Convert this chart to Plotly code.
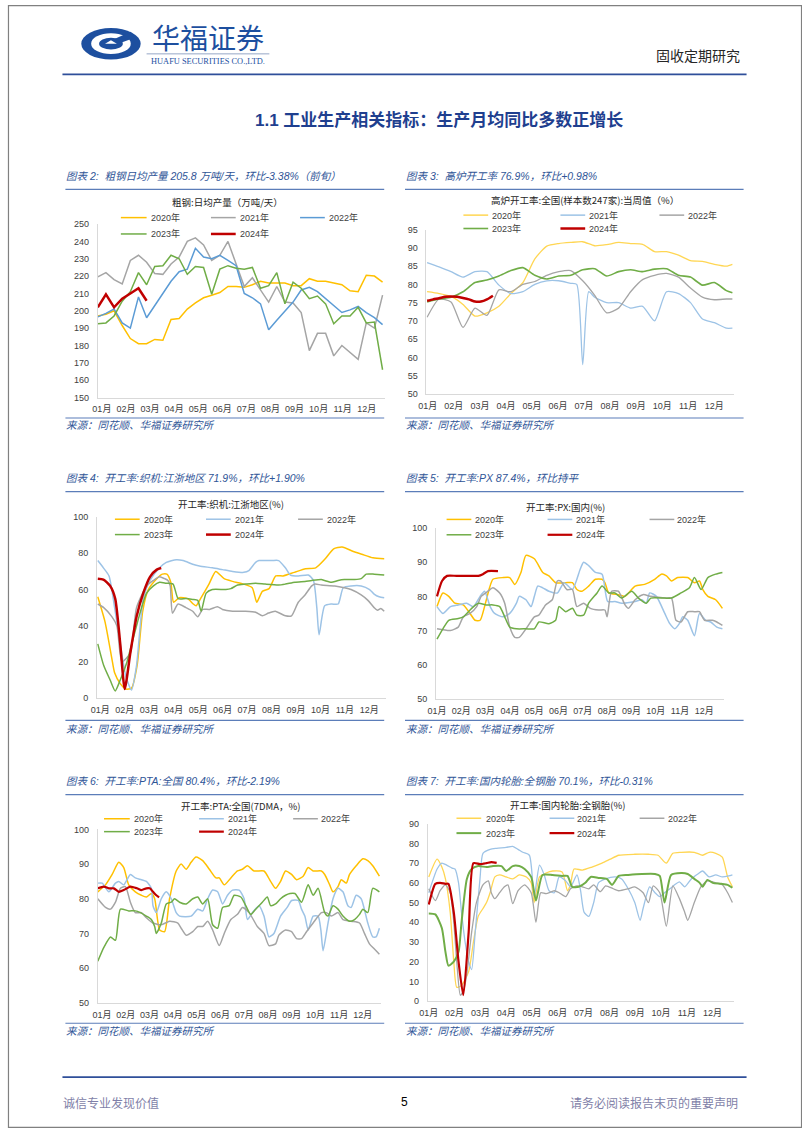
import plotly.graph_objects as go

# ======================= DATA =======================
MONTHS = ["01月", "02月", "03月", "04月", "05月", "06月", "07月", "08月", "09月", "10月", "11月", "12月"]
YEARS = ["2020年", "2021年", "2022年", "2023年", "2024年"]

# --- Chart 2: crude steel daily output (per 10-day period, index 0..35)
steel_2020 = [197, 198, 200, 191.5, 184, 181, 181, 183.5, 183, 195, 195.5, 201, 204.5, 207.5, 209, 210.5, 214, 214,
              213.5, 215, 217, 216, 216, 216, 214.5, 214.5, 218.5, 217, 217, 216, 215, 211.5, 211, 220.5, 220, 216.5]
steel_2021 = [219.5, 222, 218, 215.5, 229, 232, 228, 221.5, 221, 227, 231, 240, 242, 238, 229, 232, 240, 227,
              214, 219, 212, 205, 214, 205, 204.5, 199, 177, 187, 187, 174, 180, 176, 172, 193, 190, 209]
steel_2022 = [196.5, 198.5, 201, 193, 190, 208, 196, 203, 210, 217, 222.5, 224, 236, 231, 230, 232, 229, 226,
              210, 207.5, 204, 189, 194.5, 199.5, 205, 212, 213.5, 211, 207, 203, 199, 200.5, 202.5, 199, 196, 192]
steel_2023 = [192.5, 193, 197, 205.5, 211, 222, 215, 225.5, 226, 232, 230, 221, 225.5, 225, 209.5, 224, 226, 224.5,
              224, 225, 213, 214.5, 222, 204, 216.5, 213, 207, 208.5, 204, 192.5, 197, 197, 202, 193, 193.5, 166]
steel_2024 = [202, 209.5, 202, 207, 210, 213, 205.8]

# --- Chart 3: blast furnace utilisation (week number, value)
bf_2020_w = [0, 2, 4, 6, 8, 10, 12, 14, 16, 18, 20, 22, 24, 26, 28, 30, 32, 34, 36, 38, 40, 42, 44, 46, 48, 50, 51]
bf_2020_v = [78, 77.5, 76.7, 74.5, 71.3, 72.2, 74, 77.5, 80.5, 87, 90.5, 91.2, 91.5, 91.7, 90.6, 90.9, 91.5, 91.2,
             91, 89, 89, 88, 86.5, 86.3, 85.5, 85, 85.5]
bf_2021_w = [0, 2, 4, 6, 8, 10, 12, 14, 16, 18, 20, 22, 24, 25, 26, 27, 28, 30, 32, 34, 36, 38, 40, 42, 44, 46, 48, 50, 51]
bf_2021_v = [86, 84.8, 83.5, 82, 83.5, 83.5, 79.8, 77.5, 78, 80, 81, 81, 80.3, 80, 58, 78, 76.5, 75, 75, 73.5, 74,
             70, 78, 77.5, 75, 70.5, 69.5, 68, 68]
bf_2022_w = [0, 2, 4, 6, 8, 10, 12, 14, 16, 18, 20, 22, 24, 26, 28, 30, 32, 34, 36, 38, 40, 42, 44, 46, 48, 50, 51]
bf_2022_v = [71, 76, 75.2, 68.2, 73.5, 71.5, 78.5, 78, 80, 80.8, 82.5, 83.5, 83.8, 81, 77, 72.2, 73.5, 78, 81.3,
             82.5, 83, 82, 79, 76.5, 75.8, 76, 76]
bf_2023_w = [0, 2, 4, 6, 8, 10, 12, 14, 16, 18, 20, 22, 24, 26, 28, 30, 32, 34, 36, 38, 40, 42, 44, 46, 48, 50, 51]
bf_2023_v = [75.2, 76, 76.5, 78, 80.5, 81.2, 82.3, 83.8, 84.6, 82.5, 81.5, 82.3, 82.5, 84, 84.3, 82.3, 83.5, 84,
             83.5, 84.2, 84.3, 82.5, 82, 79.8, 80.5, 78.3, 77.7]
bf_2024_w = [0, 1, 2, 3, 4, 5, 6, 7, 8, 9, 10, 11]
bf_2024_v = [75.5, 75.9, 76.2, 76.6, 76.7, 76.6, 76.3, 75.9, 75.3, 75.3, 75.9, 76.9]

# --- Chart 4: looms, Jiangsu & Zhejiang
loom_2020_w = [0, 1.3, 2.5, 3, 4, 5, 6, 7, 8, 9, 10.5, 11.5, 12.3, 13, 13.5, 14.5, 16, 17, 17.5, 18.3, 19.8, 21,
               22.5, 24, 26, 27.5, 28.3, 29.3, 30.5, 31.7, 33, 35, 37, 38.8, 40.5, 42, 43.5, 45.5, 47, 49, 51]
loom_2020_v = [56, 42, 22, 14, 8, 5, 5.5, 18, 48, 60, 66, 68.5, 68.5, 64, 53, 55.5, 55, 52, 51, 55, 63, 70, 66,
               64.5, 63, 61, 53, 59, 60.5, 67.5, 67.5, 69.5, 71.5, 72, 77, 82.5, 83.5, 81, 79.5, 77.5, 77]
loom_2021_w = [0, 1, 2, 3, 4, 5, 6, 6.9, 8.1, 9.3, 11, 12.2, 14, 15.2, 16.9, 18.1, 20.4, 22.2, 24, 26, 26.9, 28.1,
               28.7, 31, 32.2, 33.4, 34.3, 35.7, 37.5, 38.4, 39, 39.4, 40.4, 41.6, 42.8, 43.7, 45.1, 46.9, 48.4,
               49.2, 50.1, 51]
loom_2021_v = [76, 72, 67.5, 50, 30, 12, 4.5, 18, 55, 65, 72, 75, 76.5, 76, 74, 73, 72, 71, 70, 69.5, 70.5, 75, 76,
               76, 76, 72, 68, 67.5, 68, 65, 50, 35, 51, 52, 52, 61, 62, 62, 60, 57.5, 56, 55.5]
loom_2022_w = [0, 1.06, 2.5, 3.4, 4.3, 5.8, 6.9, 8.7, 9.9, 11, 11.9, 12.5, 12.9, 13.3, 14.3, 15.7, 16.9, 17.8, 18.7,
               19.9, 21.3, 22.2, 24, 26.3, 28.1, 29.3, 30.4, 31.6, 33.4, 34.5, 35.7, 36.9, 38.1, 38.7, 39.8, 42.2,
               43.9, 45.1, 46.9, 48.1, 49.2, 49.8, 50.4, 51]
loom_2022_v = [52, 50, 45, 40, 20, 25, 50, 62, 65, 67, 66, 65, 62, 47, 52, 50, 48, 45, 49, 49, 50.5, 49, 48, 48,
               47.5, 45.5, 47, 48, 45.5, 45.5, 53, 57, 62, 63, 62.5, 62, 61, 60, 57, 54, 50, 48.5, 49.5, 48]
loom_2023_w = [0, 1.06, 2.2, 3.1, 4, 5.2, 6.05, 6.9, 7.8, 8.7, 9.9, 11, 12.2, 13.4, 14.3, 15.7, 16.9, 17.8, 18.4,
               19.3, 20.4, 22.8, 23.7, 24.9, 26.3, 28.1, 29.8, 32.2, 33.4, 35.1, 36.9, 38.1, 39.8, 40.4, 41.6, 42.8,
               43.9, 45.7, 46.9, 47.8, 49.2, 51]
loom_2023_v = [30, 18, 10, 4, 10, 20, 30, 40, 50, 58, 62, 64, 63.5, 63, 55, 55, 54.5, 54, 48, 58, 60, 60, 60.5,
               62.5, 63, 63.5, 63, 62.5, 63, 64, 64.5, 65, 65.5, 65, 64, 65, 65.5, 65.5, 66, 68.5, 68.5, 68]
loom_2024_w = [0, 1, 2.2, 3.1, 4, 4.8, 5.8, 6.9, 8.1, 9.3, 10.5, 11.3]
loom_2024_v = [66, 65.5, 62, 55, 30, 5, 25, 45, 58, 67, 71, 71.9]

# --- Chart 5: PX
px_2020_w = [0, 1.06, 2.1, 3.2, 4.7, 5.9, 6.8, 7.7, 8.5, 9.3, 10, 11.8, 13, 13.9, 15, 15.9, 17.4, 18.9, 20, 21.2,
             23, 24.2, 25, 25.9, 27.1, 28.3, 29.5, 30, 30.7, 32.4, 33.6, 35.4, 37.1, 38.9, 40.1, 41, 41.9, 43, 44.8,
             46, 46.9, 47.5, 48.4, 49.8, 51]
px_2020_v = [77, 81, 80, 78, 77.5, 75, 73, 73, 77, 82, 85, 85.5, 85.5, 83.5, 87, 92, 91, 87, 86, 84, 84, 84, 82,
             81.5, 83, 85, 85, 84, 81, 80.5, 80, 83, 83.5, 85, 86.5, 86, 84.5, 85.5, 85.5, 84, 84.5, 82, 80, 79, 76.5]
px_2021_w = [0, 1.06, 2.4, 3.8, 5.3, 6.5, 7.7, 8.5, 9.5, 10.3, 11.8, 13, 14.2, 14.7, 15.9, 16.8, 17.4, 18, 18.9, 20,
             21.5, 22.7, 24.2, 25.6, 26.2, 27.1, 28.3, 29.5, 30.5, 31.8, 33, 35.4, 36.6, 37.4, 38, 39.2, 40.7, 41.6,
             42.5, 43.3, 43.9, 44.8, 46, 46.9, 48, 48.9, 50, 51]
px_2021_v = [77, 75, 77, 77.5, 78, 77, 80, 81.5, 77, 75, 74, 75, 78, 80, 79, 77, 80, 83, 82.5, 81.5, 81, 84, 82, 88,
             90, 89, 87, 86.5, 78.5, 78.5, 78, 78.5, 79, 78, 81, 80, 75, 72, 70.5, 72, 74, 73, 68.5, 75, 73, 72.5,
             71, 70.5]
px_2022_w = [0, 2.4, 3.8, 4.7, 5.9, 7.1, 7.9, 9.1, 10, 11.2, 12.1, 13, 13.9, 14.7, 15.9, 17.4, 18.2, 19.4, 20.6,
             21.5, 22.1, 23.2, 24.2, 25, 26.2, 27.4, 28.9, 30, 30.4, 31.2, 32.4, 33.6, 34.2, 35.4, 36.8, 38.2, 40.7,
             41.9, 42.7, 43.6, 44.8, 46, 46.9, 47.8, 49.2, 50, 51]
px_2022_v = [70.5, 70, 71, 74, 75, 77, 80, 81.5, 82.5, 81, 78, 71, 68, 68, 70.5, 74, 74.5, 77.5, 79, 84.5, 84.5, 82,
             82, 77, 78, 76.5, 76, 76, 74, 81.5, 81.5, 77.5, 76.5, 79, 80.5, 80, 79.5, 79.5, 73, 72.5, 75.5, 75.5,
             75.5, 73, 73, 72.5, 71.5]
px_2023_w = [0, 1.06, 2.1, 3.8, 4.7, 6.2, 7.4, 8.8, 10, 11.2, 12.1, 13, 14.2, 15.9, 17.4, 18.2, 20, 21.2, 21.8, 23,
             24.2, 25, 26.2, 27.1, 28.6, 29.5, 30.7, 31.8, 33, 34.8, 36, 37.4, 38.2, 40.7, 41.9, 43.6, 45.1, 46,
             47.2, 48.4, 49.8, 51]
px_2023_v = [67.5, 70.5, 73, 73.5, 74, 76.5, 78, 77.5, 77.5, 77, 74, 71, 70.5, 70.5, 70.5, 72.5, 72, 73, 77, 75.5,
             76.5, 74.5, 74.5, 78, 81, 83, 81, 81, 79.5, 81.5, 79.5, 78, 79.5, 79.5, 79.5, 81, 82.5, 85.5, 82, 85.5,
             86.5, 87]
px_2024_w = [0, 0.9, 1.8, 3.5, 5.9, 7.4, 8.2, 9.1, 10.9]
px_2024_v = [80, 84.5, 86, 86, 86, 86, 86.5, 87.4, 87.4]

# --- Chart 6: PTA (7DMA)
pta_2020_w = [0, 1.4, 2.6, 3.8, 4.7, 5.6, 6.8, 7.9, 8.8, 9.7, 10.3, 11.2, 12.1, 13, 14.2, 15.1, 16, 16.9, 17.8, 19,
              20.2, 21.4, 22, 22.9, 24.1, 25.3, 26.2, 27.1, 28.3, 30.1, 31.3, 32.2, 33.1, 34, 35.1, 36, 37.2, 38.1,
              39, 40.5, 41.1, 42, 42.6, 43.5, 44.1, 45, 45.6, 46.8, 48, 48.9, 49.8, 51]
pta_2020_v = [82, 84, 87, 90.5, 89, 84, 82, 81, 80.5, 81.5, 80, 71, 70.5, 80, 88, 90, 88.5, 90.5, 92, 91, 88.5, 86,
              86, 84, 86, 88, 88.5, 89.5, 88, 88, 85, 83, 85, 88, 87, 85.5, 86.5, 89, 88, 88, 87, 84, 82, 83.5, 85.5,
              84.5, 87, 89.5, 91.5, 91, 89.5, 86.5]
pta_2021_w = [0, 0.8, 2, 3.2, 3.8, 4.7, 5.9, 6.8, 7.9, 8.8, 9.7, 10, 10.6, 11.5, 12.4, 13.3, 14.2, 14.8, 16.9, 18.1,
              19, 19.9, 20.8, 21.7, 22.6, 23.5, 24.4, 25.6, 26.5, 27.1, 28, 29.2, 30.1, 31, 31.9, 33.1, 34.3, 35.1,
              36.3, 36.9, 37.5, 38.1, 39, 39.9, 40.4, 40.8, 41.7, 42.6, 43.5, 44.4, 45.3, 45.9, 46.8, 47.7, 48.9,
              49.8, 50.4, 51]
pta_2021_v = [84.5, 84.5, 82, 84.5, 85, 84, 87, 86, 85.5, 85, 83, 78, 76, 80, 82, 80, 76, 75, 75, 77, 76.5, 80, 82.5,
              82, 78.5, 81, 82.5, 82.5, 80, 74, 76, 78, 75, 69, 70, 75, 77.5, 79.5, 79.5, 77, 75, 71, 75, 75, 71, 65,
              73, 80, 83, 82, 78, 77.5, 81, 80, 73, 69, 69, 71.5]
pta_2022_w = [0, 1.4, 2.3, 3.2, 4.1, 5, 5.9, 6.8, 7.9, 8.8, 10, 11.5, 13, 14.5, 15.1, 16, 17.2, 18.1, 19, 19.9, 20.8,
              22, 22.9, 24.1, 25.3, 26.2, 27.4, 28.9, 30.1, 31, 32.2, 32.8, 34, 35.1, 36, 36.9, 37.8, 39, 40.5, 41.4,
              42.3, 43.5, 44.4, 45.9, 47.4, 48.3, 49.2, 50.1, 51]
pta_2022_v = [80, 77.5, 77, 79, 83, 83.5, 79, 76, 76, 74.5, 73, 72.5, 73.5, 73, 71.5, 69.5, 70.5, 72, 72, 73.5, 71,
              66.5, 70, 74, 75.5, 77.5, 76, 72, 70, 66.5, 67, 69.5, 71, 70.5, 68.5, 68.5, 70.5, 73, 76, 76, 75, 76,
              74, 73.5, 73, 70, 67, 65.5, 64]
pta_2023_w = [0, 1.1, 2.3, 3.2, 4.1, 5.6, 6.8, 7.7, 8.8, 9.7, 10.3, 10.6, 11.5, 12.4, 13.3, 13.9, 14.8, 16, 17.2,
              18.1, 19, 19.9, 20.8, 21.7, 22.6, 23.8, 24.7, 25.9, 26.8, 27.7, 28.6, 29.8, 30.7, 31.3, 32.2, 33.1, 34,
              34.8, 35.7, 36.9, 38.1, 39, 39.9, 41.1, 41.7, 42.6, 43.5, 44.4, 45.6, 46.5, 47.4, 48, 48.9, 49.8, 51]
pta_2023_v = [62, 66, 69, 68, 77, 76.5, 76.5, 76, 75, 74, 72, 70, 73, 78.5, 79, 80, 79, 78.5, 80, 80.5, 78.5, 80,
              72.5, 71.5, 77.5, 78, 81, 80.5, 78, 75.5, 77, 79, 80.5, 78, 78.5, 80, 81, 81.5, 81.5, 79, 84, 81, 83,
              76, 75, 78, 77, 75, 73.5, 74, 75.5, 77, 76, 83, 82]
pta_2024_w = [0, 1.1, 2, 2.9, 3.8, 4.7, 5.9, 7.1, 7.9, 8.8, 9.4, 10, 10.6, 11.1]
pta_2024_v = [83, 83.5, 83, 83, 82, 82.5, 83.5, 83, 82.5, 83, 83, 82, 81, 80.4]

# --- Chart 7: all-steel tyres
tyre_2020_w = [0, 1.4, 2.2, 2.8, 3.6, 4.2, 4.7, 5.5, 6.7, 7.5, 8.3, 9.1, 9.7, 10.3, 11.1, 11.9, 13, 14.1, 15.2, 16.4,
               17.2, 17.7, 18.6, 19.7, 20.8, 22.4, 23.3, 23.8, 24.4, 25.8, 27.4, 29.1, 30.5, 31.9, 34.6, 36.9, 38.5,
               39.9, 41, 42.4, 44.6, 46, 47.1, 48.2, 49.3, 50.2, 51]
tyre_2020_v = [63, 72, 68, 62, 45, 20, 7, 8, 15, 30, 43, 47, 50, 55, 63, 64, 63, 62, 64, 63, 60, 50, 63, 65, 66,
               65.5, 56, 59, 67, 66.5, 68, 70, 72, 74, 74.5, 74.5, 74, 70, 75, 75.5, 75.5, 74, 75.5, 75, 73, 63, 58]
tyre_2021_w = [0, 1.4, 2.2, 3, 3.9, 4.4, 5, 5.5, 6.1, 6.7, 7.2, 7.8, 8.6, 9.1, 10.3, 11.4, 13, 14.1, 15, 15.8, 16.9,
               17.7, 18.6, 19.4, 20.2, 21.1, 21.9, 23, 23.8, 24.9, 25.5, 26.1, 26.9, 27.7, 28.5, 29.7, 31.3, 32.4,
               33.5, 34.6, 35.5, 36, 37.1, 38, 38.8, 39.6, 40.5, 41.3, 42.1, 43, 44.1, 45.2, 46, 47.1, 48.2, 49.3,
               50.4, 51]
tyre_2021_v = [55, 67, 70, 69, 67.5, 67, 60, 45, 30, 20, 16, 35, 62, 75, 77, 77.5, 78, 78.5, 77, 75.5, 74, 53, 69,
               64, 56, 55, 63, 61, 58, 64, 56, 45, 43, 50, 60, 62, 63, 62, 57, 50, 41, 47, 58, 55, 53, 55, 57, 59,
               60.5, 58, 62, 64.5, 66, 63, 64, 63, 63.5, 64]
tyre_2022_w = [0, 1.1, 1.9, 2.8, 3.6, 4.2, 4.7, 5.3, 5.8, 6.4, 7.2, 8, 9.1, 10, 10.5, 11.1, 11.9, 12.7, 13.3, 14.1,
               15, 16.1, 17.2, 18, 18.8, 19.7, 21.1, 21.9, 23, 23.8, 24.9, 25.8, 26.9, 27.7, 28.8, 29.7, 31, 31.9,
               33.5, 34.6, 36, 36.9, 37.7, 38.8, 39.9, 41, 42.1, 43, 43.5, 44.6, 45.7, 46.8, 48.2, 49.3, 50.2, 51]
tyre_2022_v = [57, 51, 56, 59, 55, 40, 20, 3, 5, 14, 35, 50, 59, 61, 55, 52, 55, 58, 59, 49.5, 56, 59, 55, 40, 55,
               54.5, 56, 55, 53, 57, 58.5, 58, 57, 59, 55.5, 58.5, 57, 56, 57, 58, 55, 50, 58.5, 55, 38, 58.5, 52, 45,
               41, 50, 58, 61, 60, 59, 55, 50]
tyre_2023_w = [0, 1.1, 2.2, 2.8, 3.3, 4.2, 5, 5.5, 6.4, 7.2, 8.3, 9.7, 10.8, 12.2, 13, 14.1, 15.2, 16.1, 17.2, 18,
               19.1, 20.8, 22.4, 23.3, 24.1, 25.2, 26.3, 27.2, 28.5, 29.9, 30.8, 31.9, 33.5, 35.8, 38, 38.8, 39.6,
               40.7, 42.4, 43.5, 44.6, 45.5, 46, 46.8, 47.7, 49.1, 50.2, 51]
tyre_2023_v = [44.5, 44, 37, 25, 18, 20, 25, 40, 62, 67, 68.5, 68, 68.5, 68.5, 66, 68.5, 68.5, 67, 63, 51, 64, 64,
               63.5, 63.5, 58, 58, 60, 63, 62.5, 62, 59, 63.5, 64, 64.5, 64.5, 63.5, 50, 64, 65, 64.5, 62, 60, 58,
               61.5, 60, 59.5, 59, 57.5]
tyre_2024_w = [0, 1.1, 1.9, 2.8, 3.3, 4.2, 5, 5.8, 6.7, 7.5, 8.6, 9.7, 10.5, 11.4]
tyre_2024_v = [49, 59.5, 60, 59.5, 59.5, 45, 20, 3, 35, 70, 69.5, 70, 70.5, 70.1]

# ======================= STYLE / LAYOUT =======================
W, H = 802, 1133
FONT = "Liberation Sans, Arial, Noto Sans CJK SC"
CJK = "Noto Sans CJK SC, Liberation Sans"
BLUE_T = "#2F5597"
TXT = "#404040"
YEL, YEL_L = "#FFC000", "#FFD653"
GRY, LBL, MBL = "#A5A5A5", "#9DC3E6", "#5B9BD5"
GRN, RED = "#70AD47", "#C00000"

fig = go.Figure()
shapes, annotations = [], []


def fx(x):
    return x / W


def fy(y):
    return 1 - y / H


def text(x, y, s, size, color, xanchor="left", yanchor="middle", family=FONT):
    annotations.append(dict(x=fx(x), y=fy(y), xref="paper", yref="paper", text=s, showarrow=False,
                            xanchor=xanchor, yanchor=yanchor, borderpad=0,
                            font=dict(size=size, color=color, family=family)))


def hline(x0, x1, y, color, width):
    shapes.append(dict(type="line", xref="paper", yref="paper", x0=fx(x0), x1=fx(x1), y0=fy(y), y1=fy(y),
                       line=dict(color=color, width=width)))


charts = [
    dict(dx=(90.7, 380.8), dy=(221, 396), xr=[0, 35.3], yr=[150, 250], dt=10, toff=0.5, tstep=2.96,
         title="图表 2:  粗钢日均产量 205.8 万吨/天，环比-3.38%（前旬）", tx=58, ty=172.7, lx=(58, 380),
         uy=186, sy=423.3, sly=416.7, sub="粗钢:日均产量（万吨/天）", subx=222, suby=199,
         leg_y=(214.5, 231), cols=[(114, 140, 143), (205, 230, 233), (295, 320, 323)], shape="linear",
         series=[(list(range(len(steel_2020))), steel_2020, YEL, 1.5),
                 (list(range(len(steel_2021))), steel_2021, GRY, 1.5),
                 (list(range(len(steel_2022))), steel_2022, MBL, 1.5),
                 (list(range(len(steel_2023))), steel_2023, GRN, 1.5),
                 (list(range(len(steel_2024))), steel_2024, RED, 2.5)]),
    dict(dx=(422.7, 733.5), dy=(226.7, 392.3), xr=[-0.1, 51.3], yr=[50, 95], dt=5, toff=0.12, tstep=4.35,
         title="图表 3:  高炉开工率 76.9%，环比+0.98%", tx=401, ty=172.7, lx=(401, 743),
         uy=186, sy=423.3, sly=416.7, sub="高炉开工率:全国(样本数247家):当周值（%）", subx=583, suby=197,
         leg_y=(212, 225.5), cols=[(460, 485, 488), (558, 583, 586), (658, 683, 686)], shape="spline",
         series=[(bf_2020_w, bf_2020_v, YEL_L, 1.3), (bf_2021_w, bf_2021_v, LBL, 1.3),
                 (bf_2022_w, bf_2022_v, GRY, 1.3), (bf_2023_w, bf_2023_v, GRN, 1.6),
                 (bf_2024_w, bf_2024_v, RED, 2.5)]),
    dict(dx=(90, 381.7), dy=(516.7, 699.3), xr=[-0.12, 51.3], yr=[0, 100], dt=20, toff=0.46, tstep=4.354,
         title="图表 4:  开工率:织机:江浙地区 71.9%，环比+1.90%", tx=58, ty=477.7, lx=(58, 380),
         uy=491, sy=730, sly=721.7, sub="开工率:织机:江浙地区(%)", subx=225, suby=503.5,
         leg_y=(518.8, 534.3), cols=[(108, 133, 136), (200, 225, 228), (293, 318, 321)], shape="spline",
         series=[(loom_2020_w, loom_2020_v, YEL, 1.5), (loom_2021_w, loom_2021_v, LBL, 1.5),
                 (loom_2022_w, loom_2022_v, GRY, 1.5), (loom_2023_w, loom_2023_v, GRN, 1.5),
                 (loom_2024_w, loom_2024_v, RED, 2.5)]),
    dict(dx=(432.3, 723.3), dy=(527.7, 700), xr=[-0.18, 51.3], yr=[50, 100], dt=10, toff=0.0, tstep=4.343,
         title="图表 5:  开工率:PX 87.4%，环比持平", tx=401, ty=477.7, lx=(401, 743),
         uy=491, sy=730, sly=721.7, sub="开工率:PX:国内(%)", subx=563, suby=506,
         leg_y=(519, 534.5), cols=[(443, 468, 471), (545, 570, 573), (648, 673, 675)], shape="spline",
         series=[(px_2020_w, px_2020_v, YEL, 1.5), (px_2021_w, px_2021_v, LBL, 1.5),
                 (px_2022_w, px_2022_v, GRY, 1.5), (px_2023_w, px_2023_v, GRN, 1.5),
                 (px_2024_w, px_2024_v, RED, 2.2)]),
    dict(dx=(90.7, 376.8), dy=(831.7, 1006.7), xr=[0, 51.3], yr=[50, 100], dt=10, toff=0.77, tstep=4.293,
         title="图表 6:  开工率:PTA:全国 80.4%，环比-2.19%", tx=58, ty=783.3, lx=(58, 380),
         uy=796.7, sy=1035, sly=1027.3, sub="开工率:PTA:全国(7DMA，%)", subx=235, suby=808,
         leg_y=(821, 834), cols=[(97, 123, 126), (193, 218, 221), (288, 313, 315)], shape="spline",
         series=[(pta_2020_w, pta_2020_v, YEL, 1.5), (pta_2021_w, pta_2021_v, LBL, 1.5),
                 (pta_2022_w, pta_2022_v, GRY, 1.5), (pta_2023_w, pta_2023_v, GRN, 1.5),
                 (pta_2024_w, pta_2024_v, RED, 2.2)]),
    dict(dx=(424, 733.5), dy=(826, 1005), xr=[-0.17, 51.3], yr=[0, 90], dt=10, toff=0.0, tstep=4.334,
         title="图表 7:  开工率:国内轮胎:全钢胎 70.1%，环比-0.31%", tx=401, ty=783.3, lx=(401, 743),
         uy=796.7, sy=1035, sly=1027.3, sub="开工率:国内轮胎:全钢胎(%)", subx=565, suby=807,
         leg_y=(820.5, 835.5), cols=[(453, 478, 482), (547, 572, 574), (638, 663, 666)], shape="spline",
         series=[(tyre_2020_w, tyre_2020_v, YEL_L, 1.3), (tyre_2021_w, tyre_2021_v, LBL, 1.3),
                 (tyre_2022_w, tyre_2022_v, GRY, 1.3), (tyre_2023_w, tyre_2023_v, GRN, 2.0),
                 (tyre_2024_w, tyre_2024_v, RED, 2.2)]),
]

layout_axes = {}
for i, c in enumerate(charts):
    n = "" if i == 0 else str(i + 1)
    xa, ya = "x" + n, "y" + n
    for (xs, vs, col, wd), name in zip(c["series"], YEARS):
        line = dict(color=col, width=wd, shape=c["shape"])
        if c["shape"] == "spline":
            line["smoothing"] = 0.6
        fig.add_trace(go.Scatter(x=xs, y=vs, mode="lines", name=name, line=line,
                                 xaxis=xa, yaxis=ya, showlegend=False, hoverinfo="skip"))
    layout_axes["xaxis" + n] = dict(
        domain=[fx(c["dx"][0]), fx(c["dx"][1])], range=c["xr"], anchor=ya,
        showgrid=False, zeroline=False, showline=True, linecolor="#D9D9D9", linewidth=1,
        tickmode="array", tickvals=[c["toff"] + c["tstep"] * k for k in range(12)], ticktext=MONTHS,
        ticks="", ticklabelstandoff=3, tickfont=dict(size=9, color=TXT, family=FONT), fixedrange=True)
    layout_axes["yaxis" + n] = dict(
        domain=[fy(c["dy"][1]), fy(c["dy"][0])], range=c["yr"], anchor=xa, dtick=c["dt"],
        tick0=c["yr"][0], showgrid=False, zeroline=False, showline=True, linecolor="#D9D9D9",
        linewidth=1, ticks="", ticklabelstandoff=6, tickfont=dict(size=9, color=TXT, family=FONT),
        fixedrange=True)

    # title, rules, source
    text(c["tx"], c["ty"], "<i>" + c["title"] + "</i>", 10.5, BLUE_T)
    hline(c["lx"][0], c["lx"][1], c["uy"], "#5B7DB9", 1.2)
    hline(c["lx"][0], c["lx"][1], c["sly"], "#5B7DB9", 1.2)
    text(c["tx"], c["sy"], "<i>来源：同花顺、华福证券研究所</i>", 10.5, BLUE_T)
    # chart inner title
    text(c["subx"], c["suby"], c["sub"], 9.5, "#262626", xanchor="center", family=CJK)
    # legend keys
    slots = [(0, 0), (0, 1), (0, 2), (1, 0), (1, 1)]
    for (row, col), (xs, vs, colr, wd), name in zip(slots, c["series"], YEARS):
        x0, x1, xt = c["cols"][col]
        y = c["leg_y"][row]
        shapes.append(dict(type="line", xref="paper", yref="paper", x0=fx(x0), x1=fx(x1), y0=fy(y), y1=fy(y),
                           line=dict(color=colr, width=max(wd, 1.5))))
        text(xt, y, name, 9, TXT)

# ---------------- header ----------------
LOGO = "#1D4F9F"
shapes.append(dict(type="circle", xref="paper", yref="paper", x0=fx(74), x1=fx(134), y0=fy(55), y1=fy(23.3),
                   fillcolor=LOGO, line=dict(width=0)))
shapes.append(dict(type="circle", xref="paper", yref="paper", x0=fx(84), x1=fx(124), y0=fy(49.5), y1=fy(28.5),
                   fillcolor="white", line=dict(width=0)))
shapes.append(dict(type="circle", xref="paper", yref="paper", x0=fx(92), x1=fx(116), y0=fy(45), y1=fy(33),
                   fillcolor=LOGO, line=dict(width=0)))
shapes.append(dict(type="path", xref="paper", yref="paper",
                   path="M {} {} L {} {} L {} {} L {} {} Z".format(fx(108), fy(34), fx(124), fy(27),
                                                                  fx(128), fy(33), fx(114), fy(38)),
                   fillcolor=LOGO, line=dict(width=0)))
shapes.append(dict(type="path", xref="paper", yref="paper",
                   path="M {} {} L {} {} L {} {} Z".format(fx(98), fy(39), fx(104), fy(35.5), fx(110), fy(39)),
                   fillcolor="white", line=dict(width=0)))
text(202, 32, "华福证券", 28, LOGO, xanchor="center", family=CJK)
hline(140, 264, 49.3, "#7A8FB8", 0.8)
text(202, 57.5, "HUAFU SECURITIES CO.,LTD.", 8.4, LOGO, xanchor="center", family="Liberation Serif, Times New Roman")
text(740, 50, "固收定期研究", 14, "#262626", xanchor="right", family=CJK)
hline(55, 746, 70, "#2F4F9A", 1.6)
text(435, 116, "<b>1.1 工业生产相关指标：生产月均同比多数正增长</b>", 17, "#1F3F8F", xanchor="center", family=FONT)

# ---------------- footer ----------------
hline(55, 746, 1081.7, "#2F4F9A", 1.6)
text(55, 1107, "诚信专业发现价值", 12, "#7F7FA8", family=CJK)
text(400, 1107, "5", 12, "#000000", xanchor="center")
text(738, 1107, "请务必阅读报告末页的重要声明", 12, "#7F7FA8", xanchor="right", family=CJK)

# page border
shapes.append(dict(type="rect", xref="paper", yref="paper", x0=0.0006, x1=0.9994, y0=0.0005, y1=0.9995,
                   line=dict(color="#808080", width=1.2)))

fig.update_layout(width=W, height=H, margin=dict(l=0, r=0, t=0, b=0), paper_bgcolor="white",
                  plot_bgcolor="white", shapes=shapes, annotations=annotations, showlegend=False,
                  **layout_axes)
fig.write_html("out.html", config={"displayModeBar": False},
               post_script="document.body.style.margin='0';document.body.style.padding='0';"
                           "document.body.style.overflow='hidden';")
